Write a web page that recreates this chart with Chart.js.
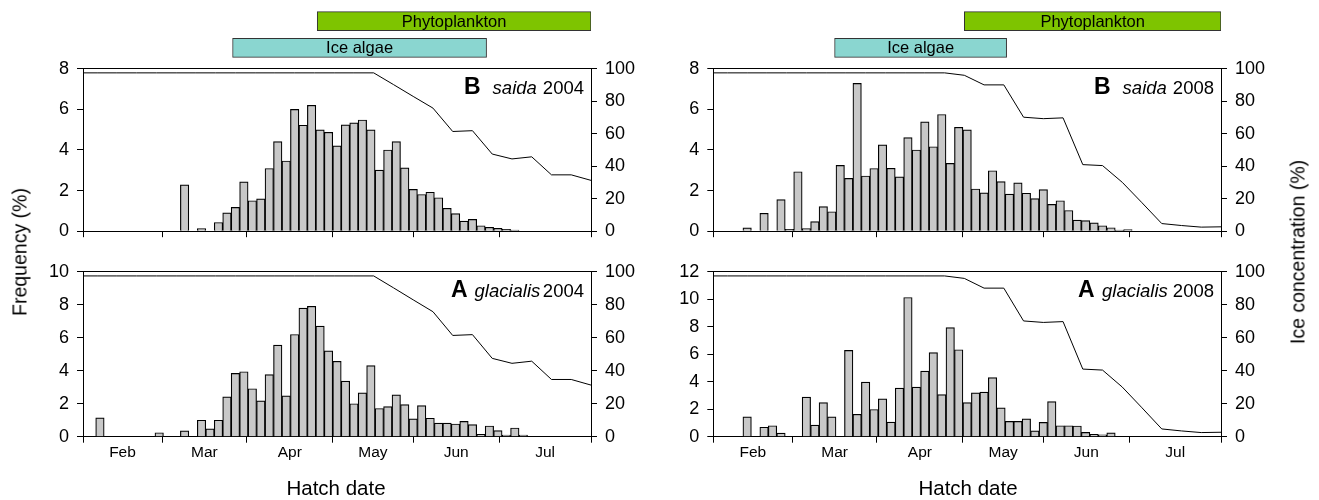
<!DOCTYPE html>
<html>
<head>
<meta charset="utf-8">
<script src="https://cdn.jsdelivr.net/npm/chart.js@4.4.1/dist/chart.umd.min.js"></script>
<style>
  body { margin: 0; background: #fff; font-family: 'Liberation Sans', Arial, sans-serif; }
  #page { position: relative; width: 1319px; height: 500px; overflow: hidden; }
  canvas { position: absolute; }
  .title { position: absolute; white-space: nowrap; color: #000; transform: translate(-50%, -50%); }
  .rot { transform: translate(-50%, -50%) rotate(-90deg); }
</style>
</head>
<body>
<div id="page">
  <canvas id="hdrL" width="640" height="64" style="left:0;top:0"></canvas>
  <canvas id="hdrR" width="679" height="64" style="left:640px;top:0"></canvas>
  <canvas id="saida04" width="640" height="200" style="left:0;top:50px"></canvas>
  <canvas id="glac04" width="640" height="230" style="left:0;top:253px"></canvas>
  <canvas id="saida08" width="679" height="200" style="left:640px;top:50px"></canvas>
  <canvas id="glac08" width="679" height="230" style="left:640px;top:253px"></canvas>
  <div class="title rot" style="left:20px;top:252px;font-size:19.5px">Frequency (%)</div>
  <div class="title rot" style="left:1298px;top:252px;font-size:19.5px">Ice concentration (%)</div>
  <div class="title" style="left:336px;top:488px;font-size:20.5px">Hatch date</div>
  <div class="title" style="left:968px;top:488px;font-size:20.5px">Hatch date</div>
</div>
<script>
const FAMILY = "'Liberation Sans', Arial, sans-serif";
Chart.defaults.font.family = FAMILY;
Chart.defaults.color = '#000';

// ── Data (x = days after 1 Feb) ──────────────────────────────────────────────
const binDays = Array.from({length: 61}, (_, k) => k * 3);   // 3-day hatch bins
const monthEdges = [0, 28, 58, 88.5, 117, 147.5, 180];
const monthNames = ['Feb', 'Mar', 'Apr', 'May', 'Jun', 'Jul'];

const saida2004 = [0,0,0,0,0,0,0,0,0,0,0,0,
  2.28,0,0.13,0,0.43,0.90,1.17,2.43,1.50,1.59,
  3.09,4.41,3.46,6.0,5.22,6.2,4.99,4.87,4.2,5.24,
  5.34,5.48,4.99,3.01,4.0,4.41,3.12,2.06,1.81,1.92,
  1.65,1.13,0.87,0.50,0.58,0.27,0.19,0.14,0.09,0.05,
  0,0,0,0,0,0,0,0,0];
const glacialis2004 = [0,0,1.14,0,0,0,0,0,0,0.24,0,0,
  0.35,0,1.0,0.47,1.0,2.42,3.84,3.94,2.91,2.17,
  3.76,5.55,2.48,6.2,7.8,7.91,6.71,5.2,4.57,3.37,
  2.0,2.66,4.31,1.71,1.83,2.54,1.95,1.08,1.89,1.12,
  0.83,0.83,0.77,0.93,0.73,0.14,0.65,0.37,0.1,0.53,
  0.1,0,0,0,0,0,0,0,0];
const saida2008 = [0,0,0,0,0.16,0,0.88,0,1.56,0.09,2.93,0.13,
  0.47,1.21,0.96,3.24,2.6,7.28,2.72,3.09,4.25,3.1,
  2.68,4.61,4.0,5.39,4.16,5.75,3.34,5.12,4.99,2.08,
  1.89,2.98,2.44,1.83,2.38,1.87,1.61,2.05,1.32,1.5,
  1.02,0.55,0.52,0.41,0.27,0.17,0.05,0.08,0,0,
  0,0,0,0,0,0,0,0,0];
const glacialis2008 = [0,0,0,0,1.44,0,0.69,0.80,0.26,0,0,2.88,
  0.85,2.48,1.44,0,6.28,1.63,3.97,1.98,2.76,1.06,
  3.54,10.13,3.61,4.77,6.12,3.07,7.94,6.33,2.48,3.19,
  3.24,4.3,2.1,1.11,1.11,1.3,0.43,1.04,2.55,0.8,
  0.8,0.78,0.31,0.17,0.14,0.28,0,0,0,0,
  0,0,0,0,0,0,0,0,0];

// weekly ice concentration (%)
const iceDays = [-2,5,12,19,26,33,40,47,54,61,68,75,82,89,96,103,110,117,124,131,138,145,152,159,166,173,180];
const ice2004 = [97.5,97.5,97.5,97.5,97.5,97.5,97.5,97.5,97.5,97.5,97.5,97.5,97.5,97.5,97.5,97.5,
  90.3,83.0,75.8,61.4,61.9,47.5,44.5,45.8,34.7,34.7,31.3];
const ice2008 = [97.5,97.5,97.5,97.5,97.5,97.5,97.5,97.5,97.5,97.5,97.5,97.5,97.5,
  96.0,90.1,90.1,70.2,69.3,69.8,41.0,40.4,30.1,17.5,4.7,3.5,2.5,2.7];

// bloom periods
const bloomLabels = ['Phytoplankton', 'Ice algae'];
const bloom2004 = [[83, 180], [53, 143]];
const bloom2008 = [[89, 180], [43, 104]];

// ── Plugins ──────────────────────────────────────────────────────────────────
const barTextPlugin = {
  id: 'barText',
  afterDatasetsDraw(chart) {
    const { ctx } = chart;
    ctx.save();
    ctx.font = `16.5px ${FAMILY}`;
    ctx.fillStyle = '#000';
    ctx.textAlign = 'center';
    ctx.textBaseline = 'middle';
    chart.getDatasetMeta(0).data.forEach((bar, i) => {
      ctx.fillText(chart.data.labels[i], (bar.x + bar.base) / 2, bar.y + 1);
    });
    ctx.restore();
  }
};

const tagPlugin = {
  id: 'tag',
  afterDraw(chart, args, opts) {
    const { ctx, chartArea } = chart;
    const parts = opts.parts || [];
    ctx.save();
    ctx.fillStyle = '#000';
    ctx.textBaseline = 'alphabetic';
    ctx.textAlign = 'left';
    let total = 0;
    parts.forEach(p => { ctx.font = `${p.font} ${FAMILY}`; p.w = ctx.measureText(p.text).width; total += p.w + p.gap; });
    let x = chartArea.right - opts.right - total;
    const y = chartArea.top + opts.baseline;
    parts.forEach(p => {
      x += p.gap;
      ctx.font = `${p.font} ${FAMILY}`;
      ctx.fillText(p.text, x, y);
      x += p.w;
    });
    ctx.restore();
  }
};

// ── Bloom header bars ────────────────────────────────────────────────────────
function renderBloom(id, spans, padL, padR) {
  new Chart(document.getElementById(id), {
    type: 'bar',
    data: {
      labels: bloomLabels,
      datasets: [{
        data: spans,
        backgroundColor: ['#7ec400', '#8ad6d0'],
        borderColor: '#333',
        borderWidth: 1,
        borderSkipped: false,
        barThickness: 19,
      }],
    },
    options: {
      indexAxis: 'y',
      responsive: false,
      animation: false,
      layout: { padding: { left: padL, right: padR, top: 7.9, bottom: 2.9 } },
      scales: {
        x: { type: 'linear', min: 0, max: 180, display: false },
        y: { display: false },
      },
      plugins: { legend: { display: false }, tooltip: { enabled: false } },
    },
    plugins: [barTextPlugin],
  });
}

// ── Frequency + ice panels ───────────────────────────────────────────────────
function renderPanel(id, p) {
  const tickVals = [];
  monthEdges.forEach((e, i) => {
    tickVals.push(e);
    if (i < monthEdges.length - 1) tickVals.push((e + monthEdges[i + 1]) / 2);
  });
  const axisLine = { color: '#000', width: 1 };
  new Chart(document.getElementById(id), {
    type: 'bar',
    data: {
      datasets: [
        {
          type: 'line',
          data: iceDays.map((d, i) => ({ x: d, y: p.ice[i] })),
          yAxisID: 'y2',
          borderColor: '#000',
          borderWidth: 1,
          pointRadius: 0,
          tension: 0,
          fill: false,
          order: 0,
        },
        {
          type: 'bar',
          data: binDays.map((d, i) => ({ x: d, y: p.freq[i] })),
          yAxisID: 'y',
          backgroundColor: '#c8c8c8',
          borderColor: '#000',
          borderWidth: 1.2,
          barPercentage: 1,
          categoryPercentage: 1,
          order: 1,
        },
      ],
    },
    options: {
      responsive: false,
      animation: false,
      layout: { padding: { top: p.top, left: 0, right: 0, bottom: 0 } },
      scales: {
        x: {
          type: 'linear', position: 'bottom', min: 0, max: 180,
          offset: false,
          afterBuildTicks: s => { s.ticks = tickVals.map(v => ({ value: v })); },
          afterFit: s => { s.height = p.xh; },
          ticks: {
            display: p.months, autoSkip: false, maxRotation: 0, padding: 1,
            font: { size: 15.5 },
            callback: (v, i) => (i % 2 ? monthNames[(i - 1) / 2] : ''),
          },
          grid: {
            offset: false, drawOnChartArea: false, tickLength: 6,
            tickColor: ctx => (ctx.index % 2 ? 'rgba(0,0,0,0)' : '#000'),
          },
          border: axisLine,
        },
        xTop: {
          type: 'linear', position: 'top', min: 0, max: 180,
          afterFit: s => { s.height = 0; },
          ticks: { display: false },
          grid: { drawOnChartArea: false, drawTicks: false },
          border: axisLine,
        },
        y: {
          position: 'left', min: 0, max: p.yMax,
          afterFit: s => { s.width = p.yw; },
          ticks: { stepSize: 2, padding: 8, font: { size: 18 } },
          grid: { drawOnChartArea: false, tickLength: 6, tickColor: '#000' },
          border: axisLine,
        },
        y2: {
          position: 'right', min: 0, max: 100,
          afterFit: s => { s.width = p.y2w; },
          ticks: { stepSize: 20, padding: 8, font: { size: 18 } },
          grid: { drawOnChartArea: false, tickLength: 6, tickColor: '#000' },
          border: axisLine,
        },
      },
      plugins: {
        legend: { display: false },
        tooltip: { enabled: false },
        tag: { parts: p.tag, right: 7, baseline: 25 },
      },
    },
    plugins: [tagPlugin],
  });
}

function tagParts(letter, species, year, gapA, gapB) {
  return [
    { text: letter, font: 'bold 23px', gap: 0 },
    { text: species, font: 'italic 18.5px', gap: gapA },
    { text: year, font: '18.5px', gap: gapB },
  ];
}

renderBloom('hdrL', bloom2004, 83, 49);
renderBloom('hdrR', bloom2008, 73.3, 98);

renderPanel('saida04', { freq: saida2004, ice: ice2004, yMax: 8, months: false, top: 14, xh: 16.7, yw: 83, y2w: 49,
  tag: tagParts('B', 'saida', '2004', 12, 6) });
renderPanel('glac04', { freq: glacialis2004, ice: ice2004, yMax: 10, months: true, top: 14.3, xh: 46.3, yw: 83, y2w: 49,
  tag: tagParts('A', 'glacialis', '2004', 7, 2.5) });
renderPanel('saida08', { freq: saida2008, ice: ice2008, yMax: 8, months: false, top: 14, xh: 16.7, yw: 73.3, y2w: 98,
  tag: tagParts('B', 'saida', '2008', 12, 6) });
renderPanel('glac08', { freq: glacialis2008, ice: ice2008, yMax: 12, months: true, top: 14.3, xh: 46.3, yw: 73.3, y2w: 98,
  tag: tagParts('A', 'glacialis', '2008', 7.5, 5) });
</script>
</body>
</html>
